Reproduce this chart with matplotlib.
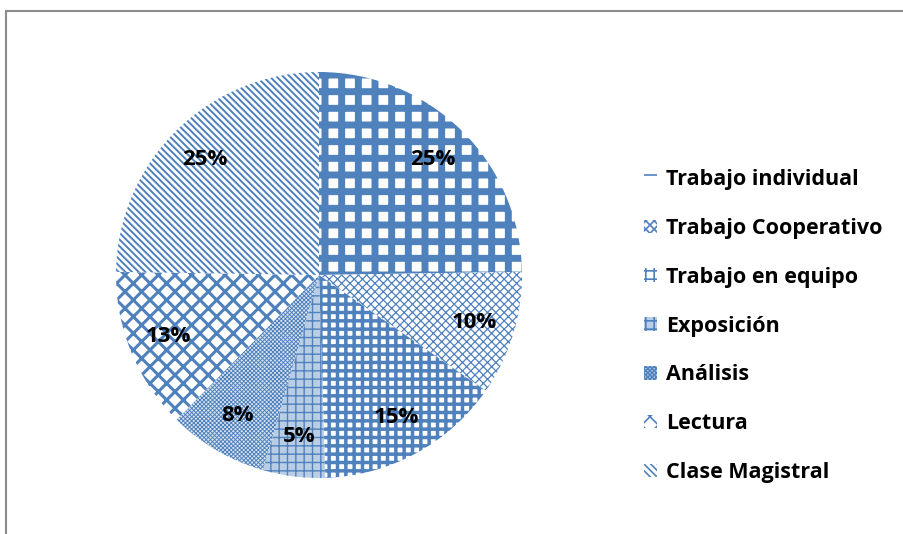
import matplotlib
matplotlib.use("Agg")
import matplotlib.pyplot as plt
from matplotlib.patches import Rectangle
import numpy as np

categorias = ["Trabajo individual", "Trabajo Cooperativo", "Trabajo en equipo",
              "Exposición", "Análisis", "Lectura", "Clase Magistral"]
valores = [25, 10, 15, 5, 8, 13, 25]
etiquetas = ["25%", "10%", "15%", "5%", "8%", "13%", "25%"]

azul = "#4F81BD"
tramas = ["+", "xxxx", "++", "++", "xxxxxxxx", "xx", "\\\\\\\\\\"]
grosores = [5.0, 0.9, 2.5, 1.0, 0.7, 2.2, 1.4]
fondos = ["white", "white", "white", "#B9CDE5", "#DCE6F2", "white", "white"]

plt.rcParams['font.family'] = ['Open Sans', 'DejaVu Sans']

fig = plt.figure(figsize=(9.04, 5.34), dpi=100)

# marco gris del grafico
fig.patches.append(Rectangle((6 / 904, -0.1), 1.1, 1 - 11 / 534 + 0.1,
                             transform=fig.transFigure, fill=False,
                             edgecolor="#8C8C8C", linewidth=1.5))

ax = fig.add_axes([(319 - 203) / 904, 56 / 534, 406 / 904, 406 / 534])
cunas, _ = ax.pie(valores, startangle=90, counterclock=False, radius=1,
                  wedgeprops=dict(linewidth=0))
for w, h, g, f in zip(cunas, tramas, grosores, fondos):
    w.set_facecolor(f)
    w.set_edgecolor(azul)
    w.set_hatch(h)
    if hasattr(w, "set_hatch_linewidth"):
        w.set_hatch_linewidth(g)

for w, t in zip(cunas, etiquetas):
    ang = np.deg2rad((w.theta1 + w.theta2) / 2)
    ax.text(0.8 * np.cos(ang), 0.8 * np.sin(ang), t, ha="center", va="center",
            fontsize=16, fontweight="bold", color="black")
ax.set_xlim(-1, 1)
ax.set_ylim(-1, 1)
ax.set_aspect("equal")
ax.axis("off")

leg = fig.legend(cunas, categorias, loc="upper left",
                 bbox_to_anchor=(625 / 904, 1 - 150 / 534),
                 frameon=False, prop=dict(weight="bold", size=15.5),
                 handlelength=0.6, handleheight=0.6, handletextpad=0.4,
                 labelspacing=1.29)
for hnd in leg.legend_handles:
    if hasattr(hnd, "set_hatch_linewidth"):
        hnd.set_hatch_linewidth(1.2)

fig.savefig("out.png", dpi=100)
